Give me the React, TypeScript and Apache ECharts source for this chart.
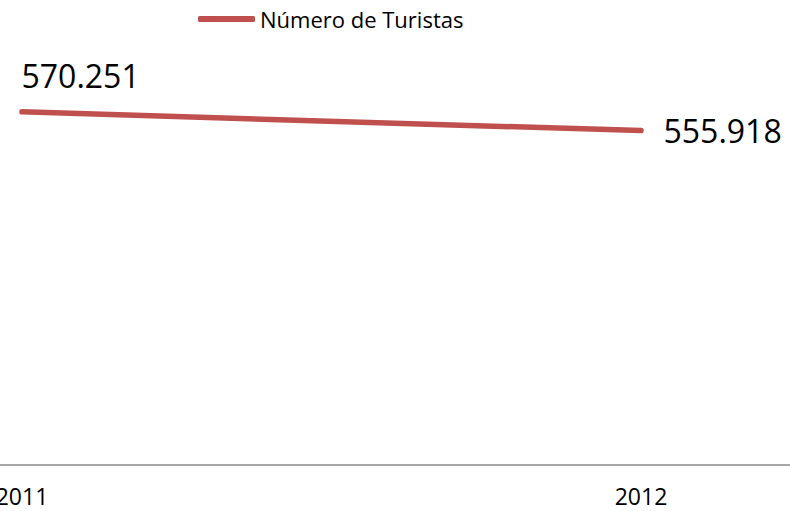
import React, { useEffect, useRef } from "react";
import * as echarts from "echarts";

const categories = ["2011", "2012"];
const seriesName = "Número de Turistas";
const touristValues = [570251, 555918];
const labelTexts = ["570.251", "555.918"];

export default function App() {
  const ref = useRef<HTMLDivElement>(null);
  useEffect(() => {
    if (!ref.current) return;
    const chart = echarts.init(ref.current, undefined, { renderer: "svg" });
    const font = "'Open Sans', 'Liberation Sans', sans-serif";
    const years = categories.map((c) => Number(c));
    // The visible area is a crop of a wider plot: each year step spans 619px.
    const xMin = years[0] - 22 / 619;
    const xMax = xMin + 790 / 619;
    chart.setOption({
      animation: false,
      backgroundColor: "#ffffff",
      legend: {
        top: 8,
        left: 198,
        padding: 0,
        itemWidth: 57,
        itemHeight: 6,
        icon: "roundRect",
        data: [{ name: seriesName, itemStyle: { color: "#c0504d" } }],
        textStyle: { fontFamily: font, fontSize: 22, color: "#000" },
      },
      grid: {
        left: 0,
        right: 0,
        top: 73,
        bottom: 46,
        containLabel: false,
        outerBoundsMode: "none",
      },
      xAxis: {
        type: "value",
        min: xMin,
        max: xMax,
        splitLine: { show: false },
        axisLine: { show: true, onZero: false, lineStyle: { color: "#888", width: 1.5 } },
        axisTick: { show: false },
        axisLabel: {
          fontFamily: font,
          fontSize: 23,
          lineHeight: 23,
          color: "#000",
          margin: 19,
          customValues: years,
          formatter: (v: number) => String(Math.round(v)),
        },
      },
      yAxis: {
        type: "value",
        min: 300000,
        max: 600000,
        show: false,
        splitLine: { show: false },
      },
      series: [
        {
          name: seriesName,
          type: "line",
          data: touristValues.map((v, i) => ({
            value: [years[i], v],
            label:
              i === 0
                ? { position: [0, -36], align: "left", verticalAlign: "middle" }
                : { position: "right", distance: 22 },
          })),
          symbol: "circle",
          symbolSize: 1,
          showSymbol: true,
          lineStyle: { color: "#c0504d", width: 5.5, cap: "round" },
          itemStyle: { color: "#c0504d" },
          label: {
            show: true,
            fontFamily: font,
            fontSize: 32,
            color: "#000",
            formatter: (p: any) => labelTexts[p.dataIndex],
          },
        },
      ],
    });
    return () => chart.dispose();
  }, []);
  return (
    <div
      ref={ref}
      style={{ position: "fixed", left: 0, top: 0, width: 790, height: 511 }}
    />
  );
}
